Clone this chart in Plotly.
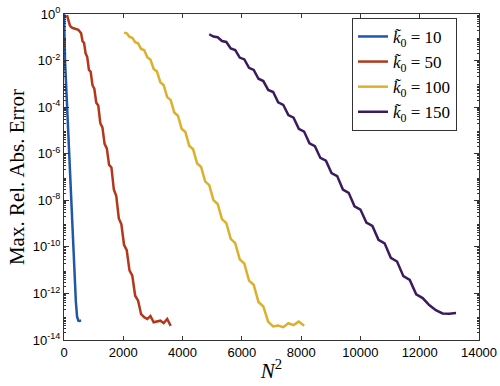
import plotly.graph_objects as go

# ---- data: N values and log10 of max. rel. abs. error ----
N_k10 = list(range(1, 25))
log_err_k10 = [0.0, -0.6, -1.2, -1.5, -1.75, -2.05, -2.4, -2.85, -3.35, -3.85,
               -4.45, -5.1, -5.85, -6.7, -7.55, -8.45, -9.4, -10.4, -11.4, -12.35,
               -13.0, -13.17, -13.18, -13.16]

N_k50 = list(range(10, 61))
log_err_k50 = [-0.05, -0.15, -0.28, -0.40, -0.48, -0.54, -0.58, -0.60, -0.61, -0.62,
               -0.63, -0.65, -0.68, -0.75, -0.82, -1.17, -1.24, -1.69, -1.85, -2.40,
               -2.48, -3.06, -3.22, -3.81, -3.93, -4.69, -4.87, -5.58, -5.77, -6.48,
               -6.59, -7.53, -7.82, -8.78, -9.03, -9.91, -10.14, -11.01, -11.24, -12.10,
               -12.31, -12.89, -13.02, -13.10, -12.97, -13.24, -13.20, -13.17, -13.27, -13.10,
               -13.39]

N_k100 = list(range(45, 91))
log_err_k100 = [-0.80, -0.83, -0.98, -1.02, -1.21, -1.26, -1.50, -1.55, -1.86, -1.96,
                -2.36, -2.47, -2.93, -3.06, -3.57, -3.70, -4.23, -4.37, -4.93, -5.07,
                -5.66, -5.81, -6.41, -6.57, -7.19, -7.35, -7.99, -8.16, -8.81, -8.98,
                -9.66, -9.84, -10.54, -10.72, -11.45, -11.63, -12.37, -12.56, -13.22, -13.42,
                -13.38, -13.45, -13.28, -13.36, -13.21, -13.39]

N_k150 = list(range(70, 116))
log_err_k150 = [-0.87, -0.97, -1.00, -1.16, -1.20, -1.48, -1.55, -1.87, -1.95, -2.31,
                -2.40, -2.78, -2.88, -3.26, -3.35, -3.79, -3.90, -4.34, -4.45, -4.93,
                -5.05, -5.55, -5.68, -6.18, -6.30, -6.83, -6.96, -7.54, -7.68, -8.26,
                -8.40, -8.96, -9.10, -9.70, -9.85, -10.47, -10.63, -11.26, -11.42, -12.04,
                -12.20, -12.50, -12.72, -12.86, -12.87, -12.84]

series_names = ["<i>k̃</i><sub>0</sub> = 10", "<i>k̃</i><sub>0</sub> = 50",
                "<i>k̃</i><sub>0</sub> = 100", "<i>k̃</i><sub>0</sub> = 150"]
series_colors = ["#2157A6", "#B3381B", "#DDB02C", "#3B1A5E"]
series_N = [N_k10, N_k50, N_k100, N_k150]
series_log = [log_err_k10, log_err_k50, log_err_k100, log_err_k150]

y_tick_exps = [0, -2, -4, -6, -8, -10, -12, -14]
x_ticks = [0, 2000, 4000, 6000, 8000, 10000, 12000, 14000]

fig = go.Figure()
for name, color, Ns, logs in zip(series_names, series_colors, series_N, series_log):
    fig.add_trace(go.Scatter(
        x=[n * n for n in Ns],
        y=[10 ** v for v in logs],
        mode="lines",
        name=name,
        line=dict(color=color, width=2.5),
    ))

axis_color = "#333333"
minor_vals = [m * 10.0 ** e for e in range(-14, 0) for m in range(2, 10)]

fig.update_layout(
    width=500, height=386,
    margin=dict(l=64, r=21, t=14, b=46, autoexpand=False),
    paper_bgcolor="white", plot_bgcolor="white",
    font=dict(family="Liberation Sans, Arial, sans-serif", size=13, color="black"),
    showlegend=True,
    legend=dict(
        x=0.694, y=0.988, xanchor="left", yanchor="top",
        bgcolor="white", bordercolor=axis_color, borderwidth=1,
        font=dict(family="Liberation Serif, DejaVu Serif, serif", size=17, color="black"),
        tracegroupgap=0,
    ),
)
fig.update_xaxes(
    range=[0, 14000], tickvals=x_ticks, ticktext=[str(t) for t in x_ticks],
    ticks="inside", ticklen=4, tickcolor=axis_color,
    showline=True, linecolor=axis_color, linewidth=1, mirror="ticks",
    showgrid=False, zeroline=False, automargin=False,
    tickfont=dict(size=13),
    title=dict(text="<i>N</i><sup>2</sup>", standoff=4,
               font=dict(family="Liberation Serif, DejaVu Serif, serif", size=21)),
)
fig.update_yaxes(
    type="log", range=[-14, 0],
    tickvals=[10 ** e for e in y_tick_exps],
    ticktext=["10<sup>%s</sup>" % ("-" + str(-e) if e < 0 else str(e)) for e in y_tick_exps],
    ticks="inside", ticklen=5, tickcolor=axis_color,
    showline=True, linecolor=axis_color, linewidth=1, mirror="ticks",
    showgrid=False, zeroline=False, automargin=False,
    tickfont=dict(size=13),
    minor=dict(ticks="inside", ticklen=2, tickcolor=axis_color, tickmode="array",
               tickvals=minor_vals, showgrid=False),
    title=dict(text="Max. Rel. Abs. Error", standoff=2,
               font=dict(family="Liberation Serif, DejaVu Serif, serif", size=21)),
)

# remove the page's default body margin so the figure sits at the window's top-left
fig.write_html("out.html", config={"displayModeBar": False},
               post_script="document.body.style.margin='0';")
